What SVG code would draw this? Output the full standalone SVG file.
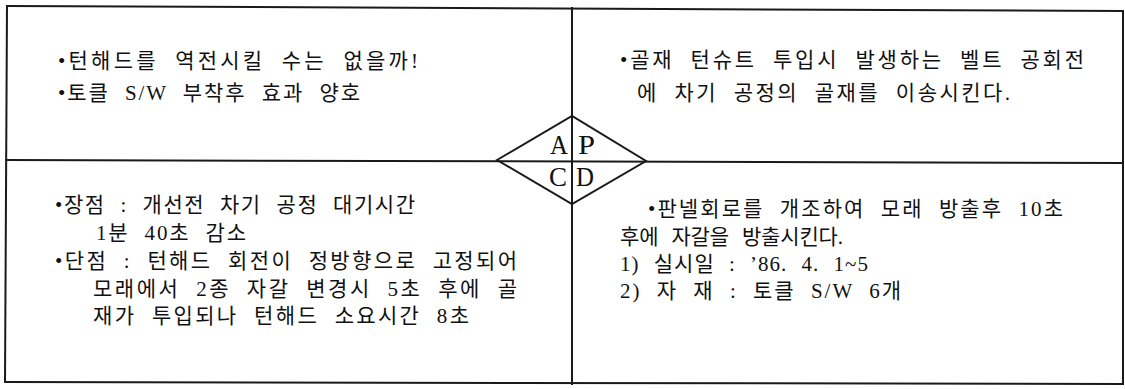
<svg xmlns="http://www.w3.org/2000/svg" width="1125" height="389" viewBox="0 0 1125 389">
<style>
.ln{stroke:#1a1a1a;stroke-width:2;fill:none;stroke-linecap:square}
.dm{stroke:#1a1a1a;stroke-width:2;fill:none;stroke-linejoin:miter}
.t{font-family:'Liberation Serif','Noto Sans CJK KR',serif;font-size:21px;fill:#111;word-spacing:8px}
.l{font-family:'Liberation Serif',serif;font-size:28px;fill:#111}
</style>
<rect width="1125" height="389" fill="#fff"/>
<g id="connectors">
<line class="ln" x1="7" y1="6" x2="1123" y2="11"/>
<line class="ln" x1="7" y1="6" x2="5" y2="382"/>
<line class="ln" x1="1123" y1="11" x2="1123" y2="384"/>
<line class="ln" x1="5" y1="382" x2="1123" y2="384"/>
<line class="ln" x1="6" y1="160" x2="1123" y2="163"/>
<line class="ln" x1="572" y1="8" x2="572" y2="384"/>
</g>
<g id="pdca">
<polygon class="dm" points="497,160 572,116 646,161 572,204"/>
<text class="l" x="550" y="154" textLength="18" lengthAdjust="spacingAndGlyphs">A</text>
<text class="l" x="578" y="154" textLength="17" lengthAdjust="spacingAndGlyphs">P</text>
<text class="l" x="549" y="186" textLength="18" lengthAdjust="spacingAndGlyphs">C</text>
<text class="l" x="576" y="186" textLength="18" lengthAdjust="spacingAndGlyphs">D</text>
</g>
<g id="action">
<text class="t" x="58" y="68" textLength="360" lengthAdjust="spacing">•턴해드를 역전시킬 수는 없을까!</text>
<text class="t" x="58" y="100" textLength="302" lengthAdjust="spacing">•토클 S/W 부착후 효과 양호</text>
</g>
<g id="plan">
<text class="t" x="620" y="67" textLength="464" lengthAdjust="spacing">•골재 턴슈트 투입시 발생하는 벨트 공회전</text>
<text class="t" x="637" y="100" textLength="373" lengthAdjust="spacing">에 차기 공정의 골재를 이송시킨다.</text>
</g>
<g id="check">
<text class="t" x="55" y="212" textLength="360" lengthAdjust="spacing">•장점 : 개선전 차기 공정 대기시간</text>
<text class="t" x="96" y="240" textLength="150" lengthAdjust="spacing">1분 40초 감소</text>
<text class="t" x="55" y="268" textLength="462" lengthAdjust="spacing">•단점 : 턴해드 회전이 정방향으로  고정되어</text>
<text class="t" x="93" y="296" textLength="424" lengthAdjust="spacing">모래에서 2종 자갈 변경시 5초 후에 골</text>
<text class="t" x="93" y="323" textLength="376" lengthAdjust="spacing">재가 투입되나 턴해드 소요시간 8초</text>
</g>
<g id="do">
<text class="t" x="648" y="216" textLength="415" lengthAdjust="spacing">•판넬회로를 개조하여 모래 방출후 10초</text>
<text class="t" x="620" y="244" textLength="223" lengthAdjust="spacing">후에 자갈을 방출시킨다.</text>
<text class="t" x="620" y="271" textLength="248" lengthAdjust="spacing">1) 실시일 : ’86. 4. 1~5</text>
<text class="t" x="620" y="298" textLength="281" lengthAdjust="spacing">2) 자  재 : 토클 S/W  6개</text>
</g>
</svg>
